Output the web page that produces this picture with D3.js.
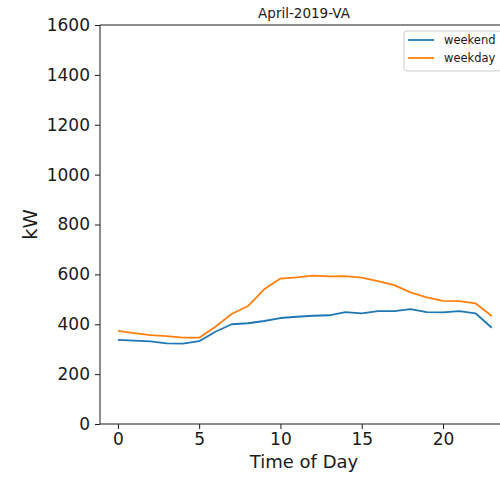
<!DOCTYPE html>
<html>
<head>
<meta charset="utf-8">
<script src="https://cdn.jsdelivr.net/npm/d3@7"></script>
<style>
  html, body { margin: 0; padding: 0; background: #fff; overflow: hidden; }
  svg { display: block; font-family: "DejaVu Sans", sans-serif; }
</style>
</head>
<body>
<svg id="chart" width="500" height="478"></svg>
<script>
// Hourly load profile, April 2019 (VA)
const hours = d3.range(0, 24);
const weekend = [337, 334, 331, 323, 322, 332, 370, 400, 404, 413, 425, 430,
                 434, 436, 449, 444, 453, 453, 461, 449, 448, 453, 444, 386];
const weekday = [373, 364, 356, 352, 346, 346, 390, 441, 473, 540, 583, 588,
                 595, 592, 593, 587, 573, 557, 528, 508, 494, 493, 484, 433];
const xTicks = [0, 5, 10, 15, 20];
const yTicks = [0, 200, 400, 600, 800, 1000, 1200, 1400, 1600];
const seriesNames = ["weekend", "weekday"];
const seriesColors = ["#1f77b4", "#ff7f0e"];

const svg = d3.select("#chart");
const mLeft = 100, mRight = 508, mTop = 25, mBottom = 424;

const x = d3.scaleLinear().domain([-1.1, 24.0]).range([mLeft, mRight]);
const y = d3.scaleLinear().domain([0, 1600]).range([mBottom, mTop]);

// clip for plot area
svg.append("defs").append("clipPath").attr("id", "plotclip")
  .append("rect").attr("x", mLeft).attr("y", mTop).attr("width", mRight - mLeft).attr("height", mBottom - mTop);

const line = d3.line().x((d, i) => x(hours[i])).y(d => y(d));
const plot = svg.append("g").attr("clip-path", "url(#plotclip)");
[weekend, weekday].forEach((vals, k) => {
  plot.append("path").datum(vals)
    .attr("d", line)
    .attr("fill", "none")
    .attr("stroke", seriesColors[k])
    .attr("stroke-width", 1.8)
    .attr("stroke-linejoin", "round");
});

// axes
const xAxis = svg.append("g").attr("transform", `translate(0,${mBottom})`)
  .call(d3.axisBottom(x).tickValues(xTicks).tickFormat(d3.format("d")).tickSize(5).tickPadding(4).tickSizeOuter(0));
const yAxis = svg.append("g").attr("transform", `translate(${mLeft},0)`)
  .call(d3.axisLeft(y).tickValues(yTicks).tickFormat(d3.format("d")).tickSize(5).tickPadding(5).tickSizeOuter(0));
[xAxis, yAxis].forEach(g => {
  g.select(".domain").remove();
  g.selectAll("text").attr("font-size", 17).attr("fill", "#1a1a1a").attr("font-family", "DejaVu Sans, sans-serif");
  g.selectAll("line").attr("stroke", "#1a1a1a").attr("stroke-width", 1);
});
// spines
const spine = (x1, y1, x2, y2) => svg.append("line")
  .attr("x1", x1).attr("y1", y1).attr("x2", x2).attr("y2", y2)
  .attr("stroke", "#1a1a1a").attr("stroke-width", 1);
spine(mLeft, mTop, mLeft, mBottom);
spine(mLeft, mBottom, mRight, mBottom);
spine(mLeft, mTop, mRight, mTop);
spine(mRight, mTop, mRight, mBottom);

// title and axis labels
svg.append("text").attr("x", (mLeft + mRight) / 2).attr("y", 18).attr("text-anchor", "middle")
  .attr("font-size", 13.5).attr("fill", "#1a1a1a").text("April-2019-VA");
svg.append("text").attr("x", (mLeft + mRight) / 2).attr("y", 468).attr("text-anchor", "middle")
  .attr("font-size", 18).attr("fill", "#1a1a1a").text("Time of Day");
svg.append("text").attr("transform", `translate(37,${(mTop + mBottom) / 2}) rotate(-90)`)
  .attr("text-anchor", "middle").attr("font-size", 19.5).attr("fill", "#1a1a1a").text("kW");

// legend
const lg = svg.append("g").attr("transform", "translate(404,31)");
lg.append("rect").attr("width", 97).attr("height", 40).attr("rx", 3)
  .attr("fill", "#fff").attr("fill-opacity", 0.8).attr("stroke", "#cccccc").attr("stroke-width", 1);
seriesNames.forEach((name, k) => {
  const yy = 9 + k * 18;
  lg.append("line").attr("x1", 4).attr("x2", 30).attr("y1", yy).attr("y2", yy)
    .attr("stroke", seriesColors[k]).attr("stroke-width", 1.8);
  lg.append("text").attr("x", 40).attr("y", yy + 4).attr("font-size", 11.5).attr("fill", "#1a1a1a").text(name);
});
</script>
</body>
</html>
